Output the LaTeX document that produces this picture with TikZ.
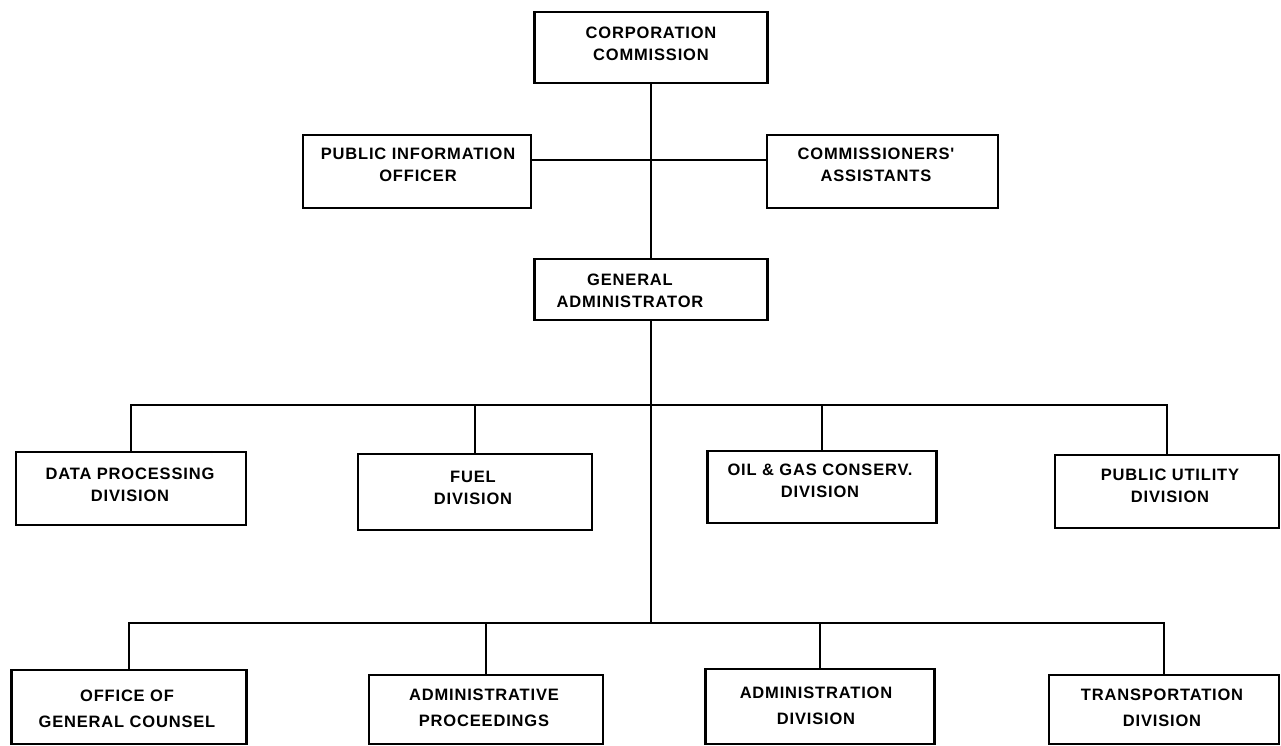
\documentclass[tikz,border=0pt]{standalone}
\usepackage{fontspec}
\setmainfont{Liberation Sans}
\newfontfamily\orgfont[LetterSpace=5]{Liberation Sans}
\begin{document}
\begin{tikzpicture}[x=1pt,y=-1pt,
  orgbox/.style={draw, line width=2.9pt, inner sep=0pt},
  orgtext/.style={align=center, inner sep=0pt,
    font=\orgfont\fontsize{16.5}{22}\selectfont\bfseries},
  orgtextb/.style={orgtext, font=\orgfont\fontsize{16.5}{26}\selectfont\bfseries},
  conn/.style={line width=2.6pt}]
\useasboundingbox[fill=white] (0,0) rectangle (1281,746);
% top
\node[orgbox, minimum width=233pt, minimum height=71pt] (cc) at (651,47.5) {};
\node[orgtext] (cct) at (651,44) {CORPORATION\\COMMISSION};
\node[orgbox, minimum width=228pt, minimum height=73pt] (pio) at (417,171.5) {};
\node[orgtext] (piot) at (418,165) {PUBLIC INFORMATION\\OFFICER};
\node[orgbox, minimum width=231pt, minimum height=73pt] (ca) at (882.5,171.5) {};
\node[orgtext] (cat) at (876,165) {COMMISSIONERS'\\ASSISTANTS};
\node[orgbox, minimum width=233pt, minimum height=61pt] (ga) at (651,289.5) {};
\node[orgtext] (gat) at (630,291) {GENERAL\\ADMINISTRATOR};
% row 1
\node[orgbox, minimum width=230pt, minimum height=73pt] (dp) at (131,488.5) {};
\node[orgtext] (dpt) at (130,485) {DATA PROCESSING\\DIVISION};
\node[orgbox, minimum width=234pt, minimum height=76pt] (fuel) at (475,492) {};
\node[orgtext] (fuelt) at (473,488) {FUEL\\DIVISION};
\node[orgbox, minimum width=229pt, minimum height=72pt] (oil) at (822,487) {};
\node[orgtext] (oilt) at (820,481) {OIL \& GAS CONSERV.\\DIVISION};
\node[orgbox, minimum width=224pt, minimum height=73pt] (pu) at (1167,491.5) {};
\node[orgtext] (put) at (1170,486) {PUBLIC UTILITY\\DIVISION};
% row 2
\node[orgbox, minimum width=235pt, minimum height=74pt] (ogc) at (129,707) {};
\node[orgtextb] (ogct) at (127,709) {OFFICE OF\\GENERAL COUNSEL};
\node[orgbox, minimum width=234pt, minimum height=69pt] (ap) at (486,709.5) {};
\node[orgtextb] (apt) at (484,707.5) {ADMINISTRATIVE\\PROCEEDINGS};
\node[orgbox, minimum width=229pt, minimum height=75pt] (ad) at (820,706.5) {};
\node[orgtextb] (adt) at (816,706) {ADMINISTRATION\\DIVISION};
\node[orgbox, minimum width=230pt, minimum height=69pt] (td) at (1164,709.5) {};
\node[orgtextb] (tdt) at (1162,707.5) {TRANSPORTATION\\DIVISION};
% junctions
\coordinate (j0) at (651,160);
\coordinate (j1) at (651,405);
\coordinate (j2) at (651,623);
% connectors
\draw[conn] (cc.south) -- (ga.north);
\draw[conn] (pio.east|-j0) -- (ca.west|-j0);
\draw[conn] (ga.south) -- (j2);
\draw[conn] (dp.north) -- (dp.north|-j1) -- (pu.north|-j1) -- (pu.north);
\draw[conn] (fuel.north) -- (fuel.north|-j1);
\draw[conn] (oil.north) -- (oil.north|-j1);
\draw[conn] (ogc.north) -- (ogc.north|-j2) -- (td.north|-j2) -- (td.north);
\draw[conn] (ap.north) -- (ap.north|-j2);
\draw[conn] (ad.north) -- (ad.north|-j2);
\end{tikzpicture}
\end{document}
